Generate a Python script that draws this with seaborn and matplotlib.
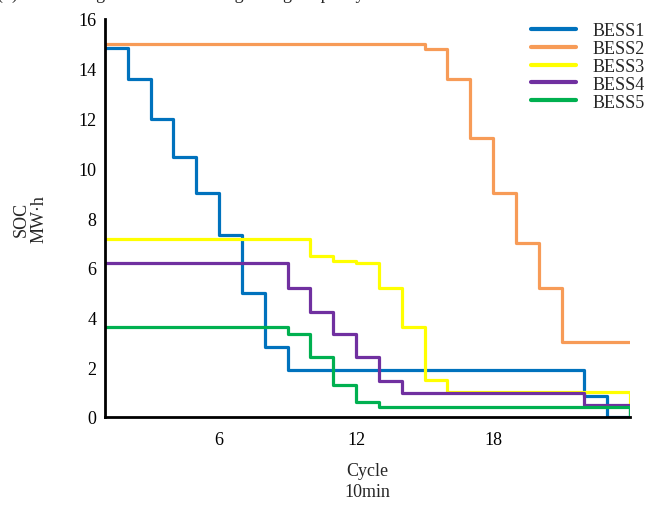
import matplotlib
matplotlib.use("Agg")
import matplotlib.pyplot as plt
import seaborn as sns
import pandas as pd
import numpy as np

cycles = list(range(1, 25))
bess1 = [14.85, 13.6, 12.0, 10.45, 9.0, 7.33, 5.0, 2.8] + [1.9] * 13 + [0.85, 0.0, 0.0]
bess2 = [15.0] * 14 + [14.8, 13.6, 11.2, 9.0, 7.0, 5.2, 3.0, 3.0, 3.0, 3.0]
bess3 = [7.15] * 9 + [6.48, 6.26, 6.2, 5.2, 3.6, 1.5] + [1.0] * 8 + [0.5]
bess4 = [6.2] * 8 + [5.2, 4.22, 3.33, 2.4, 1.43] + [0.95] * 8 + [0.49, 0.49, 0.0]
bess5 = [3.6] * 8 + [3.33, 2.4, 1.28, 0.6] + [0.42] * 11 + [0.0]
names = ["BESS1", "BESS2", "BESS3", "BESS4", "BESS5"]
colors = ["#0072BD", "#F79B57", "#FFFF00", "#7030A0", "#00B050"]
x_ticks = [6, 12, 18]
y_ticks = [0, 2, 4, 6, 8, 10, 12, 14, 16]

series = [bess1, bess2, bess3, bess4, bess5]
df = pd.concat([pd.DataFrame({"Cycle": cycles, "SOC": s, "BESS": n})
                for s, n in zip(series, names)], ignore_index=True)

sns.set_style("white")
plt.rcParams["font.family"] = ["Liberation Serif", "DejaVu Serif"]

fig = plt.figure(figsize=(6.46, 5.06), dpi=100)
ax = fig.add_axes([105 / 646, 1 - 418 / 506, (630 - 105) / 646, (418 - 20) / 506])

sns.lineplot(data=df, x="Cycle", y="SOC", hue="BESS", palette=colors,
             drawstyle="steps-post", linewidth=2.3, estimator=None, ax=ax)

ax.set_xlim(1, 24)
ax.set_ylim(0, 16)
ax.set_xticks(x_ticks)
ax.set_yticks(y_ticks)
ax.tick_params(axis="both", direction="in", length=5, width=2, labelsize=13,
               colors="black", pad=6)
ax.tick_params(axis="x", pad=10)
for side in ["top", "right"]:
    ax.spines[side].set_visible(False)
for side in ["left", "bottom"]:
    ax.spines[side].set_linewidth(2)
    ax.spines[side].set_color("black")

ax.set_xlabel("Cycle\n10min", fontsize=13, labelpad=10, linespacing=1.35)
ax.set_ylabel("SOC\nMW·h", fontsize=13, labelpad=22, linespacing=1.1)

leg = ax.legend(loc="upper left", bbox_to_anchor=(522 / 646, 1 - 14 / 506),
                bbox_transform=fig.transFigure, frameon=False, fontsize=13,
                handlelength=2.5, handletextpad=0.9, labelspacing=0.05,
                borderpad=0)
for line in leg.get_lines():
    line.set_linewidth(3)

fig.text(-0.005, 1 + 1.5 / 506, "(b) SOC changes of the remaining storage capacity",
         fontsize=13, ha="left", va="baseline")

fig.savefig("out.png", dpi=100)
